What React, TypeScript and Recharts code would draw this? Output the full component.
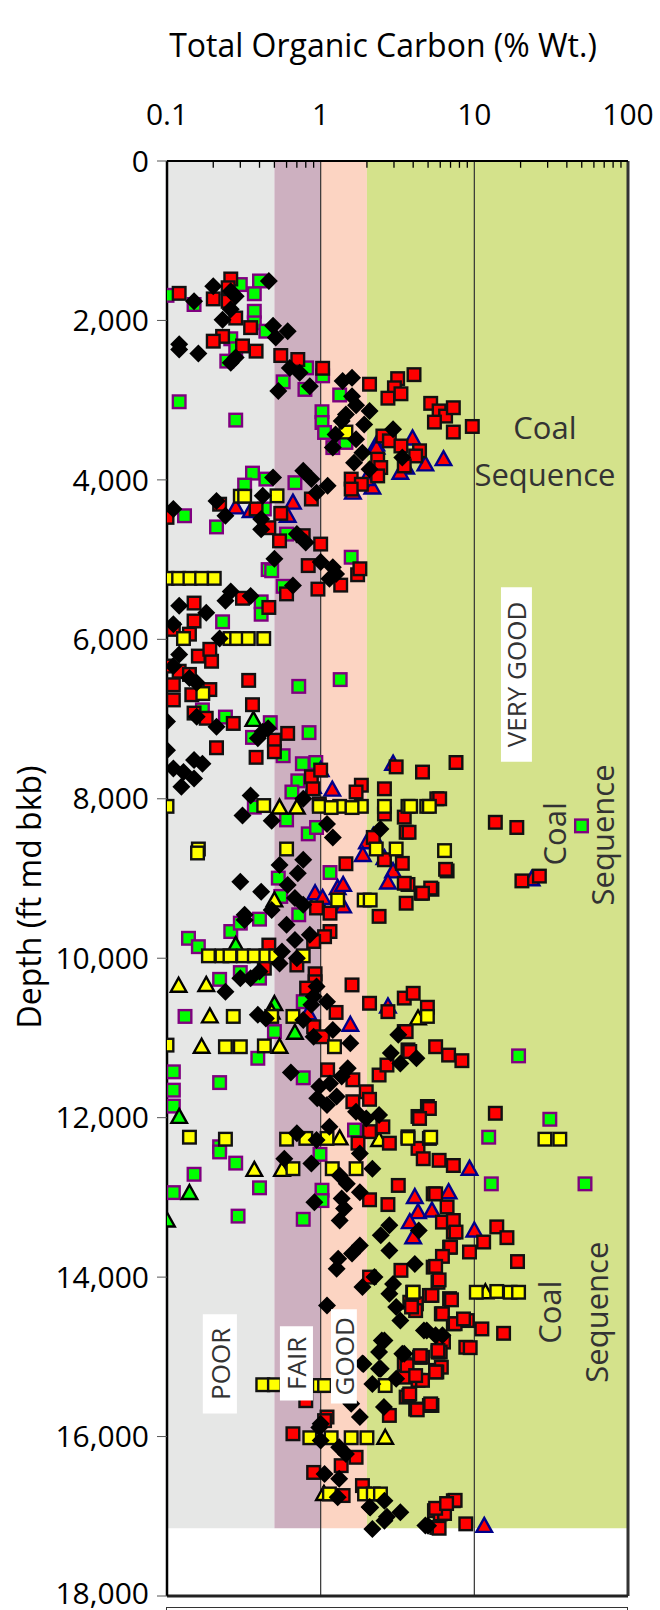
import { ScatterChart, Scatter, XAxis, YAxis, ReferenceArea, ReferenceLine, ReferenceDot } from 'recharts'

const FONT = "'Open Sans', sans-serif"

// [TOC %wt, depth ft]
const redSquares = [
  [0.12, 1660], [0.2, 1730], [0.26, 1480], [0.25, 1590], [0.25, 1760], [0.28, 1970], [0.35, 2090], [0.23, 2200],
  [0.2, 2260], [0.31, 2320], [0.38, 2385], [0.55, 2440], [0.71, 2490], [1.03, 2600], [2.08, 2800], [3.17, 2730],
  [4.05, 2680], [3.02, 2845], [2.74, 2975], [3.33, 2920], [5.2, 3040], [5.9, 3135], [6.5, 3200], [7.3, 3095],
  [5.5, 3275], [7.3, 3400], [9.7, 3330], [2.54, 3450], [2.8, 3510], [3.33, 3575], [4.4, 3635], [4.15, 3700],
  [3.5, 3825], [2.35, 3740], [2.46, 3845], [2.35, 3950], [1.58, 3990], [1.84, 4055], [1.58, 4115], [0.1, 4470],
  [0.22, 4305], [0.38, 4365], [0.55, 4420], [0.87, 4240], [0.46, 4600], [0.54, 4765], [1.0, 4805], [0.77, 4700],
  [0.15, 5545], [0.15, 5770], [0.31, 5485], [0.46, 5600], [0.11, 5875], [0.14, 5935], [0.1, 6335], [0.11, 6570],
  [0.11, 6760], [0.12, 6400], [0.14, 6440], [0.16, 6210], [0.195, 6275], [0.19, 6125], [0.145, 6695], [0.19, 6630],
  [0.15, 6925], [0.18, 6990], [0.27, 7055], [0.34, 6515], [0.36, 6820], [0.21, 7360], [0.38, 7480], [0.5, 7265],
  [0.5, 7410], [0.61, 7180], [0.83, 5075], [0.96, 5370], [1.35, 5320], [1.74, 5190], [1.8, 5115], [0.6, 5430],
  [0.87, 7725], [1.0, 7640], [0.89, 7875], [0.98, 8065], [1.84, 7830], [1.7, 7915], [2.6, 7875], [3.1, 7600],
  [4.6, 7665], [7.6, 7545], [5.7, 8000], [3.6, 8420], [3.5, 8230], [2.6, 8190], [2.2, 8485], [13.7, 8295],
  [18.9, 8360], [20.4, 9030], [26.5, 8970], [5.95, 8000], [3.76, 8420], [6.65, 8905], [3.7, 9075], [5.3, 9135],
  [1.46, 8815], [0.94, 9370], [1.15, 9435], [1.15, 9665], [1.06, 9730], [0.9, 9790], [0.46, 9835], [0.43, 10125],
  [0.7, 10085], [0.92, 10195], [0.92, 10295], [0.81, 10375], [1.6, 10335], [1.26, 10680], [0.9, 10860], [1.03, 10985],
  [1.11, 11400], [1.62, 11525], [1.98, 11675], [2.08, 11770], [1.62, 11800], [2.08, 12175], [2.54, 12115], [2.8, 12320],
  [1.75, 12320], [3.5, 9060], [3.6, 9310], [2.4, 9475], [4.5, 9185], [5.2, 9120], [6.5, 8885], [3.4, 8810],
  [2.6, 8765], [2.08, 10565], [3.5, 10500], [4.0, 10440], [4.95, 10615], [2.74, 10670], [3.5, 10920], [2.4, 11465],
  [2.7, 11340], [3.7, 11150], [5.6, 11110], [6.8, 11215], [8.3, 11285], [4.95, 11860], [4.3, 11985], [3.7, 12240],
  [4.3, 12385], [4.6, 9185], [3.6, 10920], [3.8, 11170], [5.1, 11885], [4.4, 12010], [13.7, 11945],
  [2.08, 13030], [2.74, 13090], [3.2, 12850], [2.08, 14000], [3.33, 13915], [3.8, 14315], [4.2, 14335], [3.5, 15090],
  [3.5, 15255], [3.6, 15505], [4.15, 15655], [4.4, 15005], [4.3, 15295], [5.1, 15610], [2.8, 15735], [5.4, 13875],
  [5.8, 14065], [5.1, 14230], [6.9, 14270], [6.1, 14460], [7.3, 14585], [9.0, 14545], [5.8, 14940], [5.6, 15170],
  [0.8, 15550], [0.66, 15965], [1.1, 15755], [7.3, 13435], [6.9, 13625], [5.4, 12955], [6.2, 13310], [8.8, 14880],
  [4.15, 14420], [7.3, 12600], [5.9, 12535], [4.65, 12515], [5.6, 12955], [6.65, 13120], [7.3, 13290], [7.6, 13435],
  [7.0, 13625], [6.2, 13740], [9.3, 13685], [11.5, 13560], [14.0, 13370], [16.3, 13505], [19.1, 13805], [5.6, 13865],
  [5.9, 14035], [5.3, 14230], [7.1, 14285], [3.9, 14375], [6.2, 14460], [7.5, 14585], [8.5, 14525], [11.2, 14650],
  [15.5, 14705], [9.4, 14885], [6.3, 14815], [6.0, 14940], [6.1, 15130], [5.7, 15190], [4.6, 15005], [4.6, 15295],
  [3.75, 15485], [4.25, 15665], [5.3, 15610], [3.65, 15110], [1.06, 15800], [0.9, 16450], [1.36, 16365], [1.7, 16260],
  [1.87, 16615], [1.4, 16740], [4.45, 14985], [4.15, 15235], [3.8, 15465], [5.2, 15590], [5.6, 15190], [5.8, 14920],
  [5.5, 16930], [6.0, 16970], [7.3, 16805], [5.7, 17140], [8.8, 17095], [5.9, 17150], [6.4, 16965], [5.6, 16900],
  [7.5, 16800], [6.6, 16840],
]

const blackDiamonds = [
  [0.15, 1760], [0.2, 1570], [0.26, 1635], [0.28, 1695], [0.46, 1505], [0.23, 1990], [0.26, 1860], [0.12, 2300],
  [0.12, 2365], [0.16, 2415], [0.26, 2530], [0.28, 2465], [0.49, 2065], [0.51, 2215], [0.61, 2135], [0.63, 2595],
  [0.73, 2655], [0.85, 2825], [0.53, 2885], [1.39, 2760], [1.6, 2720], [1.6, 2950], [1.7, 3065], [2.08, 3135],
  [1.46, 3180], [1.37, 3260], [1.92, 3305], [1.25, 3430], [1.7, 3490], [1.2, 3595], [1.87, 3660], [1.65, 3785],
  [2.08, 3865], [2.96, 3365], [3.4, 3720], [0.49, 3970], [0.77, 3885], [0.87, 3990], [1.11, 4075], [0.94, 4160],
  [0.42, 4200], [0.21, 4265], [0.11, 4365], [0.24, 4450], [0.41, 4490], [0.41, 4620], [0.7, 4680], [0.8, 4785],
  [0.12, 5580], [0.18, 5665], [0.26, 5400], [0.24, 5515], [0.35, 5455], [0.11, 5810], [0.12, 6190], [0.11, 6335],
  [0.14, 6485], [0.156, 6545], [0.1, 7030], [0.1, 7390], [0.11, 7620], [0.128, 7665], [0.15, 7515], [0.17, 7560],
  [0.15, 7745], [0.124, 7850], [0.21, 7095], [0.156, 6970], [0.22, 5990], [0.39, 7240], [0.42, 7160], [0.455, 7115],
  [0.35, 7960], [0.31, 8210], [0.48, 8275], [0.5, 4990], [0.66, 5325], [1.0, 5030], [1.2, 5095], [1.14, 5240],
  [1.26, 5180], [0.77, 8000], [2.45, 8380], [1.1, 8315], [1.2, 8485],
  [0.54, 8830], [0.3, 9040], [0.61, 9080], [0.71, 8935], [0.77, 8765], [0.41, 9165], [0.48, 9395], [0.32, 9455],
  [0.32, 9520], [0.68, 9245], [0.77, 9330], [0.6, 9580], [0.68, 9770], [0.56, 9915], [0.7, 10000], [0.54, 10065],
  [0.4, 10165], [0.35, 10250], [0.3, 10250], [0.24, 10420], [0.85, 9705], [0.94, 10355], [0.9, 10480], [1.1, 10545],
  [0.87, 10585], [0.77, 10775], [0.9, 10985], [1.2, 10900], [1.56, 11065], [0.39, 10710], [0.44, 10755], [0.64, 11435],
  [1.5, 11380], [1.37, 11485], [0.98, 11610], [0.95, 11755], [1.1, 11840], [1.27, 11735], [1.15, 11570], [1.7, 11925],
  [1.98, 12010], [2.4, 11965], [2.86, 11190], [3.3, 11320], [4.2, 11255], [3.2, 10960], [0.7, 12195], [0.94, 12280],
  [1.14, 12115], [0.58, 12515], [0.87, 12575], [1.8, 12450], [2.17, 12640], [1.33, 12725], [1.48, 12830], [1.8, 12935],
  [1.37, 13015], [1.42, 13140], [1.33, 13290], [0.91, 13060], [2.8, 13350], [2.46, 13475], [2.8, 13665], [1.8, 13605],
  [1.6, 13705], [1.3, 13770], [1.27, 13895], [4.1, 13835], [1.87, 14125], [2.24, 14000], [2.96, 14085], [2.8, 14210],
  [3.1, 14375], [3.3, 14545], [1.1, 14355], [4.7, 14670], [5.6, 14730], [2.6, 14795], [2.4, 14940], [3.4, 14960],
  [1.9, 15090], [2.46, 15150], [2.17, 15340], [3.1, 15275], [1.58, 15590], [2.58, 15630], [1.8, 15755], [1.0, 15840],
  [4.35, 13415], [4.9, 14670], [6.2, 14730], [3.5, 14960], [0.98, 15885], [1.0, 16050], [1.32, 16135], [1.46, 16220],
  [1.06, 16470], [1.32, 16530], [1.29, 16760], [2.08, 16885], [2.6, 16805], [3.3, 16950], [2.6, 17055], [2.17, 17160],
  [4.8, 17115], [2.5, 14795], [2.4, 15150], [1.87, 15085], [5.0, 17120], [2.7, 17005], [2.1, 16890],
]

const greenSquares = [
  [0.1, 1685], [0.15, 1800], [0.4, 1505], [0.37, 1665], [0.3, 1550], [0.37, 1885], [0.37, 2030], [0.44, 2135],
  [0.26, 2230], [0.28, 2355], [0.245, 2510], [0.81, 2595], [1.03, 2695], [0.57, 2770], [0.79, 2865], [1.33, 2935],
  [0.12, 3020], [0.28, 3250], [1.02, 3145], [1.02, 3280], [1.06, 3405], [1.46, 3530], [1.2, 3595], [0.36, 3915],
  [0.44, 3990], [0.68, 4035], [0.32, 4065], [0.13, 4450], [0.21, 4590], [0.43, 4365], [0.6, 4680],
  [0.455, 5125], [0.48, 5140], [0.57, 5335], [0.41, 5530], [0.41, 5685], [0.23, 5780], [0.72, 6590], [1.34, 6505],
  [0.17, 6885], [0.24, 6975], [0.47, 7045], [0.36, 7230], [0.84, 7170], [0.57, 7460], [0.76, 7560], [0.93, 7545],
  [0.71, 7775], [0.65, 7915], [0.37, 8105], [0.6, 8265], [0.83, 8440], [0.94, 8360], [1.58, 4970], [49.8, 8340],
  [1.15, 8925], [0.53, 8995], [0.55, 9225], [0.72, 9455], [0.4, 9510], [0.26, 9665], [0.3, 9560], [0.138, 9750],
  [0.16, 9855], [0.22, 10265], [0.3, 10180], [0.4, 10250], [0.77, 10545], [0.5, 10920], [0.131, 10730], [0.39, 11255],
  [0.77, 11500], [0.11, 11425], [0.22, 11560], [0.11, 11655], [0.11, 11855], [1.66, 12155], [0.22, 12365],
  [19.4, 11225], [12.4, 12245], [31, 12020], [0.22, 12430], [0.28, 12570], [0.15, 12710], [0.11, 12940], [0.4, 12880],
  [0.29, 13235], [0.77, 13275], [1.02, 12910], [1.02, 13040], [0.99, 12460], [12.9, 12830], [52.5, 12830],
]

const yellowSquares = [
  [1.46, 3400], [0.3, 4205], [0.32, 4205], [0.52, 4200], [0.1, 5235], [0.119, 5235], [0.141, 5235], [0.168, 5235],
  [0.203, 5235], [0.128, 5990], [0.257, 5990], [0.284, 5990], [0.338, 5990], [0.426, 5990], [0.171, 6680], [0.1, 8095],
  [0.426, 8085], [0.98, 8095], [1.33, 8095], [1.84, 8095], [2.6, 8095], [3.7, 8095], [4.9, 8095], [5.1, 8095],
  [3.85, 8095], [1.17, 8110], [1.6, 8110], [0.16, 8630], [0.6, 8630], [2.3, 8630], [3.1, 8630], [6.4, 8650],
  [0.158, 8680], [0.186, 9970], [0.228, 9970], [0.257, 9970], [0.314, 9970], [0.37, 9970], [0.44, 9970], [0.51, 9970],
  [0.77, 9970], [1.29, 9270], [1.92, 9270], [2.1, 9270], [0.27, 10730], [0.48, 10730], [0.66, 10730], [0.1, 11090],
  [0.24, 11110], [0.3, 11110], [0.43, 11100], [1.23, 11110], [4.95, 10730], [0.14, 12245], [0.24, 12270], [0.6, 12270],
  [0.8, 12260], [1.1, 12260], [3.7, 12260], [5.1, 12260], [28.8, 12270], [36, 12270], [5.2, 12245],
  [0.66, 12640], [1.19, 12640], [1.7, 12640], [0.42, 15350], [0.5, 15350], [1.02, 15360], [2.63, 15360], [3.97, 14190],
  [0.85, 16015], [1.17, 16015], [1.58, 16015], [2.0, 16015], [4.0, 14190], [10.3, 14190], [14, 14180], [17.1, 14190],
  [19.4, 14190], [0.98, 15360], [1.06, 15360], [1.14, 16720], [1.93, 16720], [2.2, 16720], [2.45, 16720],
]

const yellowTriangles = [
  [0.54, 8110], [0.7, 8110], [0.119, 10345], [0.18, 10335], [0.19, 10730], [0.168, 11110], [0.54, 11110],
  [0.48, 10680], [0.5, 9275], [0.94, 9260], [4.3, 10755], [1.33, 12260], [2.4, 12280], [0.37, 12655], [0.56, 12655],
  [2.63, 16015], [11.8, 14190], [1.05, 16720],
]

const greenTriangles = [
  [0.365, 7010], [0.28, 9835], [0.5, 10575], [0.68, 10935], [0.12, 11990], [0.14, 12945], [0.1, 13290],
]

const blueTriangles = [
  [2.3, 3555], [3.96, 3480], [4.8, 3805], [6.3, 3740], [3.6, 3845], [2.17, 4095], [1.62, 4160], [0.66, 4285],
  [0.61, 4450], [0.35, 4390], [0.28, 4345], [1.98, 3990], [2.31, 3595], [3.3, 3910], [1.0, 7640], [0.89, 7850],
  [1.19, 7885], [2.96, 7560], [2.2, 8465], [2.0, 8545], [23.6, 9010], [1.88, 8705], [2.6, 8745], [2.96, 8910],
  [2.74, 9050], [1.29, 9120], [1.4, 9080], [0.92, 9185], [1.03, 9245], [1.4, 9350], [1.56, 10835], [2.74, 10605],
  [0.83, 10690], [4.1, 12995], [4.3, 13185], [3.8, 13310], [4.0, 13500], [6.8, 12935], [5.3, 13165], [9.3, 12640],
  [10, 13415], [11.6, 17120],
]

const xTicks = [0.1, 1, 10, 100]
const minorTicks = [0.2, 0.3, 0.4, 0.5, 0.6, 0.7, 0.8, 0.9, 2, 3, 4, 5, 6, 7, 8, 9, 20, 30, 40, 50, 60, 70, 80, 90]
const yTicks = [0, 2000, 4000, 6000, 8000, 10000, 12000, 14000, 16000, 18000]

const bands = [
  { from: 0.1, to: 0.5, color: '#e6e7e6' },
  { from: 0.5, to: 1, color: '#cdb0c0' },
  { from: 1, to: 2, color: '#fcd4c2' },
  { from: 2, to: 100, color: '#d4e28b' },
]
const bandBottom = 17150

const ratingBoxes = [
  { text: 'POOR', x1: 0.171, x2: 0.285, y1: 14465, y2: 15711 },
  { text: 'FAIR', x1: 0.543, x2: 0.891, y1: 14616, y2: 15547 },
  { text: 'GOOD', x1: 1.167, x2: 1.72, y1: 14403, y2: 15585 },
  { text: 'VERY GOOD', x1: 14.9, x2: 23.7, y1: 5346, y2: 7535 },
]

const coalLabels = [
  { text: 'Coal', toc: 28.8, depth: 3333, angle: 0 },
  { text: 'Sequence', toc: 28.8, depth: 3925, angle: 0 },
  { text: 'Coal', toc: 32.9, depth: 8440, angle: -90 },
  { text: 'Sequence', toc: 67.6, depth: 8453, angle: -90 },
  { text: 'Coal', toc: 30.6, depth: 14440, angle: -90 },
  { text: 'Sequence', toc: 61.8, depth: 14440, angle: -90 },
]

const toPoints = (arr: number[][]) => arr.map(([toc, depth]) => ({ toc, depth }))

// markers: a bit chunky, like the Excel original
const square = (fill: string, stroke: string) => (p: any) => (
  <rect x={p.cx - 6.3} y={p.cy - 6.3} width={12.6} height={12.6} fill={fill} stroke={stroke} strokeWidth={2.4} />
)
const triangle = (fill: string, stroke: string) => (p: any) => (
  <polygon
    points={`${p.cx},${p.cy - 8} ${p.cx + 7.8},${p.cy + 6} ${p.cx - 7.8},${p.cy + 6}`}
    fill={fill}
    stroke={stroke}
    strokeWidth={2.4}
  />
)
const diamond = (p: any) => (
  <polygon points={`${p.cx},${p.cy - 9} ${p.cx + 9},${p.cy} ${p.cx},${p.cy + 9} ${p.cx - 9},${p.cy}`} fill="#000" />
)

const boxLabel = (text: string) => (props: any) => {
  const { x, y, width, height } = props.viewBox
  const cx = x + width / 2
  const cy = y + height / 2
  return (
    <text
      x={cx}
      y={cy}
      transform={`rotate(-90 ${cx} ${cy})`}
      textAnchor="middle"
      dominantBaseline="central"
      fontSize={26}
      fill="#333"
      fontFamily={FONT}
    >
      {text}
    </text>
  )
}

const wordShape = (text: string, angle: number) => (p: any) => (
  <text
    x={p.cx}
    y={p.cy}
    transform={angle ? `rotate(${angle} ${p.cx} ${p.cy})` : undefined}
    textAnchor="middle"
    dominantBaseline="central"
    fontSize={31}
    fill="#333"
    fontFamily={FONT}
  >
    {text}
  </text>
)

export default function App() {
  return (
    <div style={{ position: 'absolute', left: 0, top: 0, width: 660, height: 1610, background: '#fff', fontFamily: FONT }}>
      <ScatterChart width={660} height={1610} margin={{ top: 101, right: 32, bottom: 14, left: 0 }}>
        <XAxis
          dataKey="toc"
          type="number"
          scale="log"
          domain={[0.1, 100]}
          allowDataOverflow
          orientation="top"
          ticks={xTicks}
          tickFormatter={(v) => String(v)}
          height={60}
          tickLine={false}
          tickMargin={30}
          axisLine={{ stroke: '#000', strokeWidth: 2 }}
          tick={{ fill: '#000', fontSize: 30, fontFamily: FONT }}
        />
        <YAxis
          dataKey="depth"
          type="number"
          domain={[0, 18000]}
          allowDataOverflow
          reversed
          ticks={yTicks}
          tickFormatter={(v) => v.toLocaleString('en-US')}
          width={167}
          tickSize={10}
          tickMargin={8}
          tickLine={{ stroke: '#555' }}
          axisLine={{ stroke: '#000', strokeWidth: 2.5 }}
          tick={{ fill: '#000', fontSize: 30, fontFamily: FONT }}
        />

        {bands.map((b) => (
          <ReferenceArea key={b.from} x1={b.from} x2={b.to} y1={0} y2={bandBottom} fill={b.color} fillOpacity={1} stroke="none" />
        ))}
        {minorTicks.map((v) => (
          <ReferenceLine key={v} segment={[{ x: v, y: 0 }, { x: v, y: 85 }]} stroke="#000" strokeWidth={1.3} />
        ))}
        <ReferenceLine x={1} stroke="#333" strokeWidth={1.2} />
        <ReferenceLine x={10} stroke="#333" strokeWidth={1.2} />
        <ReferenceLine x={100} stroke="#333" strokeWidth={3} />
        <ReferenceLine y={18000} stroke="#222" strokeWidth={3} />

        <Scatter data={toPoints(greenSquares)} shape={square('#00ff00', '#800080')} isAnimationActive={false} />
        <Scatter data={toPoints(greenTriangles)} shape={triangle('#00ff00', '#000')} isAnimationActive={false} />
        <Scatter data={toPoints(yellowTriangles)} shape={triangle('#ffff00', '#000')} isAnimationActive={false} />
        <Scatter data={toPoints(blueTriangles)} shape={triangle('#ff0000', '#00008b')} isAnimationActive={false} />
        <Scatter data={toPoints(redSquares)} shape={square('#ff0000', '#111')} isAnimationActive={false} />
        <Scatter data={toPoints(yellowSquares)} shape={square('#ffff00', '#111')} isAnimationActive={false} />
        <Scatter data={toPoints(blackDiamonds)} shape={diamond} isAnimationActive={false} />

        {ratingBoxes.map((b) => (
          <ReferenceArea
            key={b.text}
            x1={b.x1}
            x2={b.x2}
            y1={b.y1}
            y2={b.y2}
            fill="#fff"
            fillOpacity={1}
            stroke="none"
            zIndex={700}
            label={boxLabel(b.text)}
          />
        ))}
        {coalLabels.map((c, i) => (
          <ReferenceDot key={i} x={c.toc} y={c.depth} r={0} zIndex={700} shape={wordShape(c.text, c.angle)} />
        ))}
      </ScatterChart>

      <svg width={660} height={1610} style={{ position: 'absolute', left: 0, top: 0, pointerEvents: 'none' }}>
        <text x={383} y={57} textAnchor="middle" fontSize={32} fill="#000" fontFamily={FONT}>
          Total Organic Carbon (% Wt.)
        </text>
        <text
          x={28}
          y={897}
          transform="rotate(-90 28 897)"
          textAnchor="middle"
          dominantBaseline="central"
          fontSize={32}
          fill="#000"
          fontFamily={FONT}
        >
          Depth (ft md bkb)
        </text>
      </svg>
      <div style={{ position: 'absolute', left: 166, top: 1607, width: 460, height: 10, border: '1.5px solid #333' }} />
    </div>
  )
}
